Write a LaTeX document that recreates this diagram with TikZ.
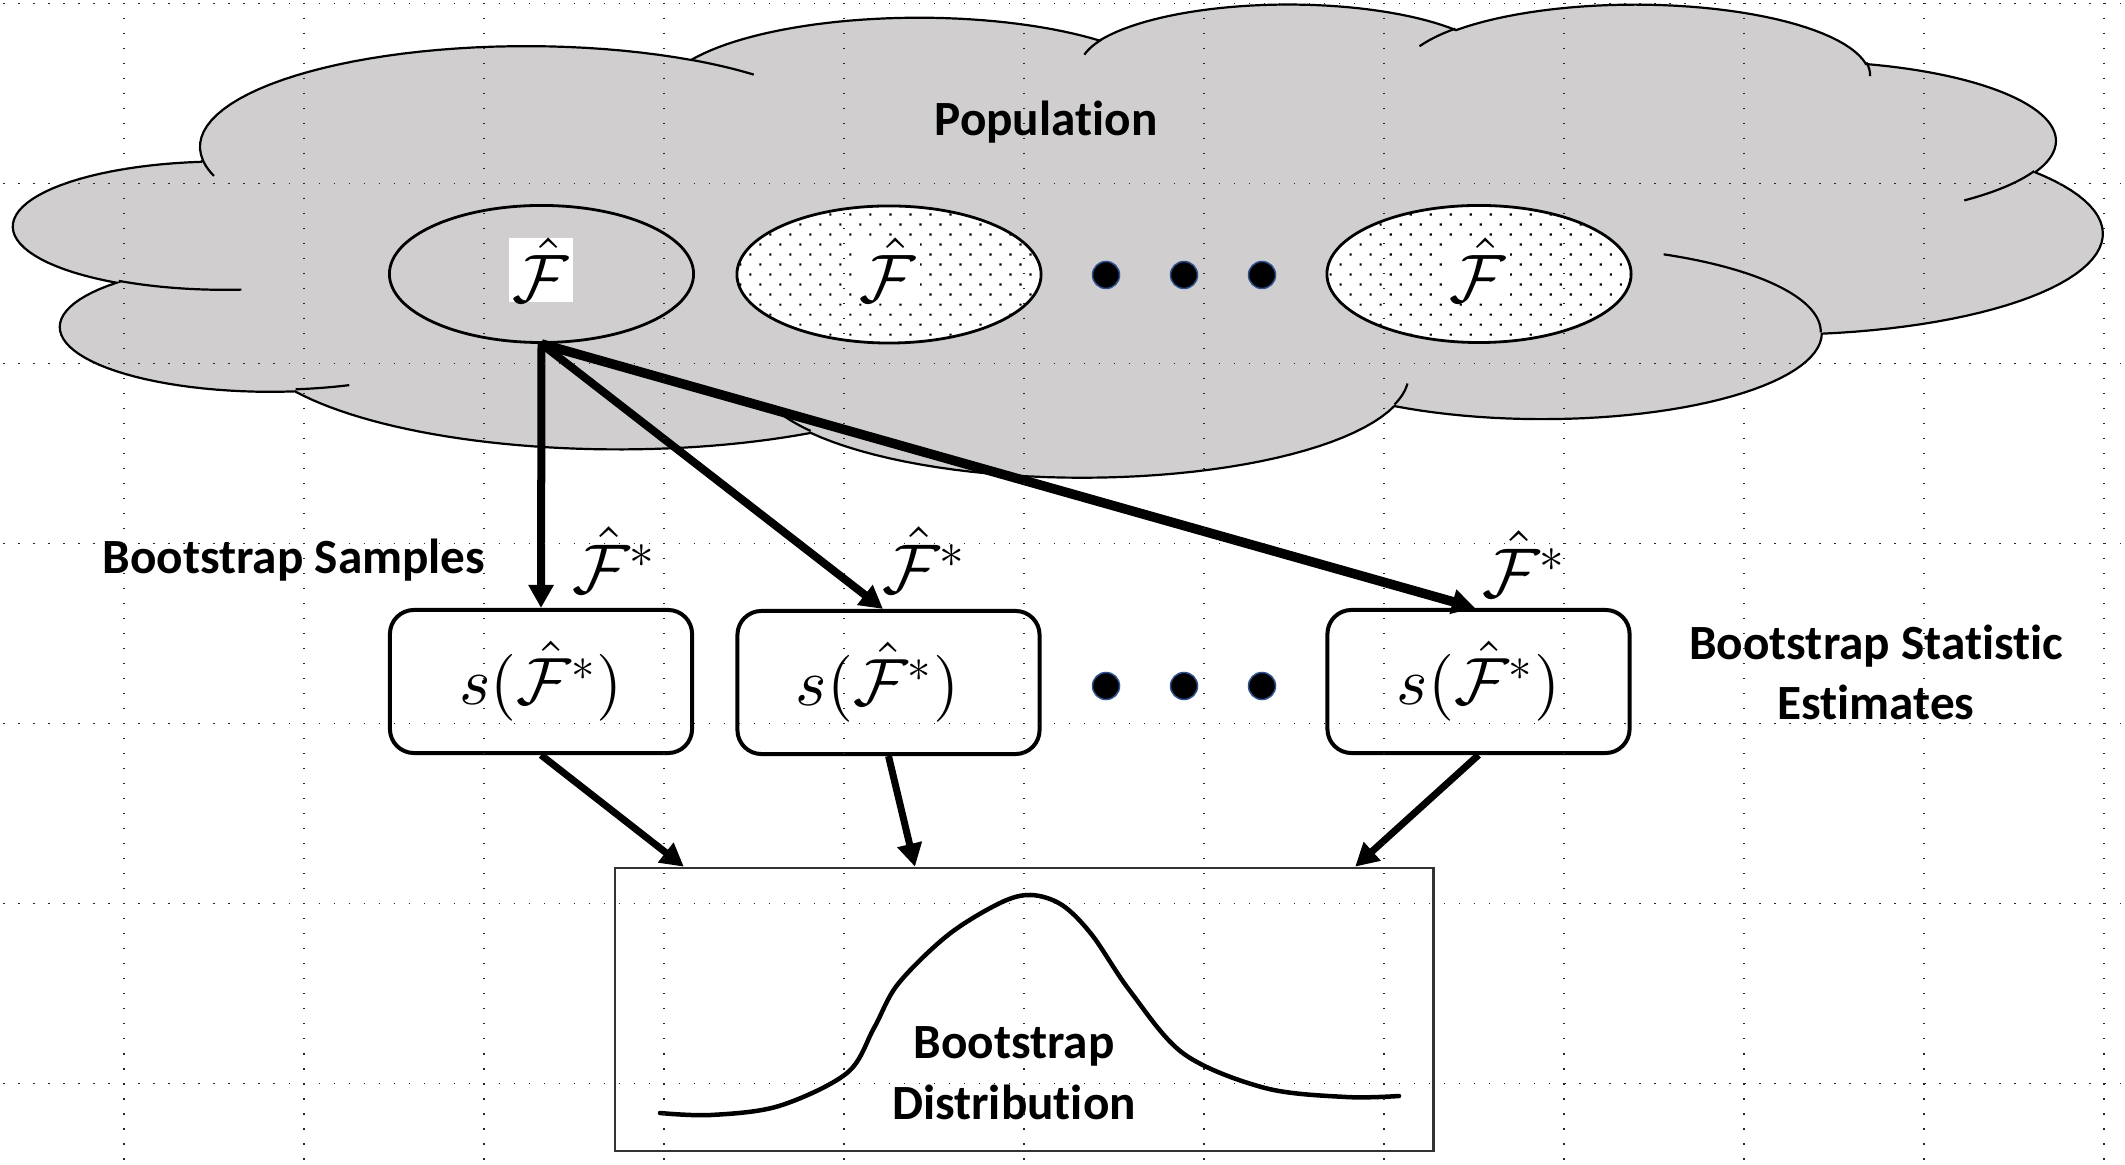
\documentclass[tikz,border=0pt]{standalone}
\usepackage[no-math]{fontspec}
\DeclareFontShape{OML}{cmm}{m}{it}{<->cmmi10}{}
\DeclareFontShape{OMS}{cmsy}{m}{n}{<->cmsy10}{}
\DeclareFontShape{OT1}{cmr}{m}{n}{<->cmr10}{}
\newfontfamily\calib[Ligatures=NoCommon]{Carlito}
\usetikzlibrary{arrows.meta,patterns,shapes.geometric}
\definecolor{cloudgray}{RGB}{208,206,206}
\definecolor{dotblue}{RGB}{47,82,143}
\pgfdeclarepatternformonly{ppdots}{\pgfqpoint{-0.5pt}{-0.5pt}}{\pgfqpoint{6.19pt}{6.19pt}}{\pgfqpoint{5.69pt}{5.69pt}}{%
  \pgfpathrectangle{\pgfqpoint{-0.3pt}{-0.3pt}}{\pgfqpoint{0.6pt}{0.6pt}}%
  \pgfpathrectangle{\pgfqpoint{2.545pt}{2.545pt}}{\pgfqpoint{0.6pt}{0.6pt}}%
  \pgfusepath{fill}}
\makeatletter
% elliptical arc in OOXML convention (visual angles), appended to \cloudpath
\newcommand\cloudarc[4]{%
  \pgfmathsetmacro\cl@tA{atan2((#1)*sin(#3),(#2)*cos(#3))}%
  \pgfmathsetmacro\cl@tB{atan2((#1)*sin((#3)+(#4)),(#2)*cos((#3)+(#4)))}%
  \pgfmathsetmacro\cl@dT{(\cl@tB)-(\cl@tA)}%
  \ifdim\cl@dT pt<0pt \pgfmathsetmacro\cl@dT{(\cl@dT)+360}\fi
  \pgfmathsetmacro\cl@tB{(\cl@tA)+(\cl@dT)}%
  \pgfmathsetmacro\cl@cx{(\cpx)-(#1)*cos(\cl@tA)}%
  \pgfmathsetmacro\cl@cy{(\cpy)-(#2)*sin(\cl@tA)}%
  \xdef\cloudpath{\unexpanded\expandafter{\cloudpath} -- plot[domain=\cl@tA:\cl@tB,samples=40] ({\cl@cx+(#1)*cos(\noexpand\x)},{\cl@cy+(#2)*sin(\noexpand\x)})}%
  \pgfmathsetmacro\cl@ex{\cl@cx+(#1)*cos(\cl@tB)}%
  \pgfmathsetmacro\cl@ey{\cl@cy+(#2)*sin(\cl@tB)}%
  \xdef\cpx{\cl@ex}\xdef\cpy{\cl@ey}%
}
\newcommand\cloudinner[6]{%
  \gdef\cpx{#1}\gdef\cpy{#2}\gdef\cloudpath{(#1,#2)}%
  \cloudarc{#3}{#4}{#5}{#6}%
  \draw[cloudline] \cloudpath;%
}
\makeatother
\begin{document}
\begin{tikzpicture}[x=0.01cm,y=-0.01cm,
  lbl/.style={font=\calib\bfseries\fontsize{14}{17}\selectfont, inner sep=0pt, anchor=base},
  mth/.style={font=\fontsize{20}{24}\selectfont, inner sep=0pt},
  fhat/.style={mth, font=\fontsize{19.5}{23}\selectfont, fill=white, minimum width=0.64cm, minimum height=0.64cm},
  sbox/.style={draw, line width=0.04cm, rounded corners=0.24cm, fill=white, minimum width=3.02cm, minimum height=1.43cm, inner sep=0pt, font=\fontsize{19}{23}\selectfont},
  subell/.style={ellipse, draw, line width=0.028cm, minimum width=3.04cm, minimum height=1.37cm, inner sep=0pt},
  bigdot/.style={circle, fill=black, draw=dotblue, line width=0.015cm, minimum size=0.27cm, inner sep=0pt},
  uparr/.style={line width=0.08cm, -{Triangle[length=0.23cm,width=0.24cm]}},
  lowarr/.style={line width=0.07cm, -{Triangle[length=0.23cm,width=0.24cm]}},
  cloudline/.style={draw=black, line width=0.022cm},
  griddot/.style={line width=0.013cm, dash pattern=on 0.013cm off 0.137cm, black!85}]
\useasboundingbox (0,0) rectangle (2125,1165);
\fill[white] (0,0) rectangle (2125,1165);

% ---- cloud (PowerPoint cloud preset, coordinates /10) ----
\begin{scope}[shift={(14.5,3)},xscale=0.4832,yscale=0.1095]
  \gdef\cpx{390}\gdef\cpy{1437}\gdef\cloudpath{(390,1437)}
  \cloudarc{675.3}{919.0}{-190.4875}{123.7805}
  \cloudarc{533.3}{726.7}{-144.1024}{89.9452}
  \cloudarc{436.5}{594.5}{-145.8079}{99.7230}
  \cloudarc{485.7}{659.5}{-130.9861}{117.2417}
  \cloudarc{533.3}{727.3}{-78.7089}{109.0269}
  \cloudarc{677.5}{922.0}{-46.2673}{130.2690}
  \cloudarc{578.5}{786.7}{0.6250}{114.0333}
  \cloudarc{675.2}{921.5}{22.4516}{115.1726}
  \cloudarc{772.0}{1054.3}{66.2426}{75.7110}
  \cloudarc{436.0}{591.8}{-274.9421}{146.7356}
  \cloudarc{434.5}{594.5}{-246.8285}{152.5189}
  \fill[cloudgray] \cloudpath -- cycle;
  \draw[cloudline] \cloudpath -- cycle;
  \cloudinner{469.3}{2617.7}{434.5}{594.5}{86.7420}{26.4295}
  \cloudinner{692.8}{3489.9}{436.0}{591.8}{73.6105}{11.4475}
  \cloudinner{1647.8}{3909.0}{675.2}{921.5}{137.6242}{14.0811}
  \cloudinner{2882.7}{3475.1}{675.2}{921.5}{6.4533}{15.9984}
  \cloudinner{3412.9}{2295.4}{578.5}{786.7}{-70.2924}{70.9174}
  \cloudinner{4179.8}{1535.4}{533.3}{727.3}{30.3180}{27.7515}
  \cloudinner{3832.4}{542.6}{485.7}{659.5}{-13.7443}{14.8589}
  \cloudinner{2907.8}{395.2}{485.7}{659.5}{-149.1815}{18.1954}
  \cloudinner{2214.1}{472.0}{436.5}{594.5}{-163.4943}{17.6864}
  \cloudinner{1400.0}{519.2}{675.3}{919.0}{-66.7070}{12.3194}
  \cloudinner{412.7}{1578.9}{675.3}{919.0}{157.6544}{11.8582}
\end{scope}

\node[lbl] (pop) at (1046,136) {Population};

% ---- ellipses ----
\node[subell] (e1) at (541.5,274) {};
\node[subell, preaction={fill=white}, pattern=ppdots] (e2) at (889,274.5) {};
\node[subell, preaction={fill=white}, pattern=ppdots] (e3) at (1479,274) {};
\node[fhat] (f1) at (541,270) {$\hat{\mathcal{F}}$};
\node[fhat] (f2) at (888,270) {$\hat{\mathcal{F}}$};
\node[fhat] (f3) at (1478,270) {$\hat{\mathcal{F}}$};
\node[bigdot] (d1) at (1106,275) {};
\node[bigdot] (d2) at (1184,275) {};
\node[bigdot] (d3) at (1262,275) {};

% ---- bootstrap samples ----
\node[lbl] (bsamp) at (294,574) {Bootstrap Samples};
\node[mth] (l1) at (614,560) {$\hat{\mathcal{F}}^*$};
\node[mth] (l2) at (924,560) {$\hat{\mathcal{F}}^*$};
\node[mth] (l3) at (1524,564) {$\hat{\mathcal{F}}^*$};

\node[sbox] (b1) at (541,681.5) {$s(\hat{\mathcal{F}}^*)$};
\node[sbox] (b2) at (888.5,682.5) {\hspace*{-0.22cm}$s(\hat{\mathcal{F}}^*)$};
\node[sbox] (b3) at (1478.5,681.5) {$s(\hat{\mathcal{F}}^*)$};
\node[bigdot] (d4) at (1106,686) {};
\node[bigdot] (d5) at (1184,686) {};
\node[bigdot] (d6) at (1262,686) {};

\node[lbl] (bst1) at (1876,660) {Bootstrap Statistic};
\node[lbl] (bst2) at (1876,719.5) {Estimates};

% ---- distribution box ----
\node[draw=black!80, line width=0.025cm, minimum width=8.18cm, minimum height=2.83cm, inner sep=0pt] (r) at (1024,1009.5) {};
\draw[line width=0.045cm, line cap=round] plot[smooth, tension=0.55] coordinates {(660,1113) (711,1115) (779,1106) (847,1073) (874,1028) (898,984) (948,935) (1000,903) (1031,895) (1062,905) (1092,935) (1130,991) (1184,1054) (1265,1088) (1346,1097) (1399,1096)};
\node[lbl] (bd1) at (1014,1058) {Bootstrap};
\node[lbl] (bd2) at (1014,1119) {Distribution};

% ---- arrows ----
\draw[uparr] (e1.south) -- (b1.north);
\draw[uparr] (e1.south) -- ([xshift=-0.055cm]b2.north);
\draw[uparr, line width=0.095cm] (e1.south) -- ([xshift=-0.035cm]b3.north);
\draw[lowarr] (b1.south) -- ([xshift=-3.40cm]r.north);
\draw[lowarr] (b2.south) -- ([xshift=-1.09cm]r.north);
\draw[lowarr] (b3.south) -- ([xshift=3.31cm]r.north);

% ---- grid overlay ----
\foreach \gy in {3.3,183.3,363.3,543.3,723.3,903.3,1083.3}
  \draw[griddot] (3.35,\gy) -- (2125,\gy);
\foreach \gx in {124,304,484,664,844,1024,1204,1384,1564,1744,1924,2104}
  \draw[griddot] (\gx,2.65) -- (\gx,1165);
\end{tikzpicture}
\end{document}
